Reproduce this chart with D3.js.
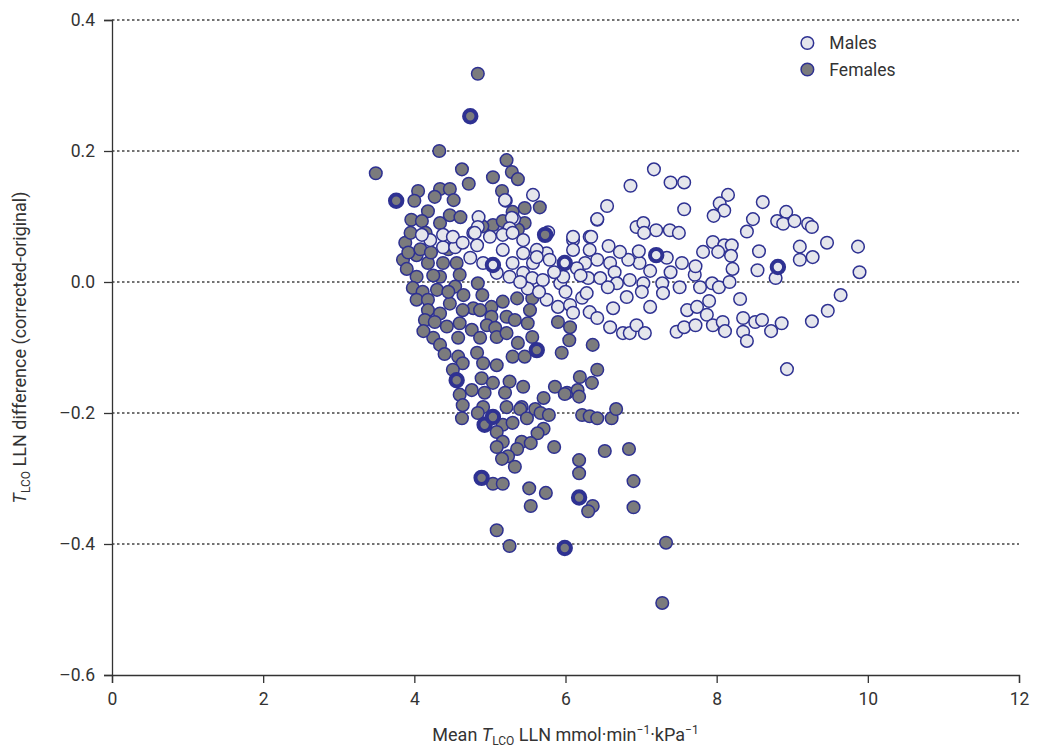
<!DOCTYPE html>
<html>
<head>
<meta charset="utf-8">
<script src="https://cdn.jsdelivr.net/npm/d3@7"></script>
<style>
  body { margin: 0; background: #fff; }
  svg text { font-family: Roboto, "Noto Sans", sans-serif; fill: #333; }
</style>
</head>
<body>
<div id="chart"></div>
<script>
// axis ticks
var xTicks = [0, 2, 4, 6, 8, 10, 12];
var yTicks = [0.4, 0.2, 0.0, -0.2, -0.4, -0.6];
var gridValues = [0.4, 0.2, 0.0, -0.2, -0.4];

// [mean LLN, difference]
var females = [
  [4.84,0.318],[4.33,0.200],[3.49,0.166],[4.63,0.172],[5.22,0.186],[5.29,0.168],[5.37,0.157],[5.04,0.160],
  [4.72,0.150],[4.05,0.139],[4.34,0.142],[4.47,0.142],[4.00,0.124],[4.27,0.130],[4.52,0.125],[5.16,0.139],
  [5.46,0.113],[4.18,0.108],[3.96,0.095],[4.10,0.093],[4.34,0.090],[4.47,0.102],[4.61,0.099],[5.04,0.087],
  [5.46,0.090],[5.17,0.093],[5.66,0.114],[5.30,0.107],[4.90,0.085],[5.37,0.080],
  [3.88,0.060],[3.85,0.034],[4.03,0.041],[3.90,0.020],[4.18,0.029],[4.38,0.029],[4.56,0.029],[4.03,0.008],
  [4.34,0.008],[4.60,0.011],[4.84,-0.002],[3.98,-0.009],[4.11,-0.015],[4.30,-0.012],[4.54,-0.007],[4.03,-0.027],
  [4.18,-0.027],[4.47,-0.033],[4.78,-0.040],[5.02,-0.038],[5.17,-0.030],[5.36,-0.025],[5.56,-0.025],[4.18,-0.043],
  [4.34,-0.048],[4.64,-0.043],[4.87,-0.043],[5.02,-0.053],[5.22,-0.053],[5.53,-0.043],[4.14,-0.058],[4.27,-0.061],
  [4.43,-0.068],[4.60,-0.063],[4.76,-0.073],[4.96,-0.066],[5.07,-0.070],[5.33,-0.058],[5.50,-0.063],[4.25,-0.085],
  [4.34,-0.096],[4.58,-0.085],[4.87,-0.085],[5.09,-0.084],[5.22,-0.078],[5.37,-0.093],[5.56,-0.084],[4.58,-0.114],
  [4.83,-0.108],[4.64,-0.124],[4.91,-0.124],[5.09,-0.127],[5.30,-0.114],[5.46,-0.114],[4.51,-0.134],[4.89,-0.147],
  [5.04,-0.154],[5.26,-0.152],[5.44,-0.160],[4.76,-0.165],[4.60,-0.172],[4.93,-0.169],[5.20,-0.169],[4.64,-0.188],
  [4.91,-0.191],[5.22,-0.191],[5.42,-0.191],
  [3.92,0.045],[4.08,0.050],[4.22,0.045],[4.45,0.050],[3.95,0.075],[4.15,0.075],[4.25,0.010],[4.45,-0.015],
  [4.65,-0.020],[4.90,-0.020],[4.12,-0.075],[4.40,-0.110],
  [5.90,-0.061],[6.06,-0.069],[6.05,-0.089],[5.95,-0.108],[6.36,-0.096],[6.42,-0.134],[6.19,-0.145],[6.35,-0.154],
  [5.86,-0.160],[6.02,-0.169],[6.16,-0.165],
  [4.63,-0.208],[4.84,-0.200],[5.17,-0.218],[5.09,-0.229],[5.30,-0.215],[5.40,-0.194],[5.49,-0.208],[5.60,-0.194],
  [5.67,-0.200],[5.78,-0.203],[5.71,-0.177],[5.99,-0.171],[6.18,-0.175],[5.71,-0.224],[5.63,-0.231],[5.17,-0.244],
  [5.09,-0.252],[5.42,-0.244],[5.54,-0.246],[5.36,-0.255],[5.24,-0.266],[5.16,-0.270],[5.33,-0.282],[5.85,-0.252],
  [6.22,-0.203],[6.32,-0.205],[6.42,-0.208],[6.61,-0.208],[6.67,-0.194],[6.18,-0.272],[6.18,-0.292],[6.52,-0.258],
  [6.84,-0.255],[6.90,-0.304],[6.90,-0.344],[5.04,-0.308],[5.17,-0.308],[5.52,-0.315],[5.74,-0.322],[5.54,-0.342],
  [6.36,-0.342],[6.30,-0.350],[5.09,-0.379],[5.26,-0.403],[7.33,-0.398],[7.28,-0.490]
];

var males = [
  [5.21,0.124],[5.57,0.133],[4.85,0.099],[5.32,0.096],[5.20,0.125],[5.29,0.098],[5.26,0.082],[5.77,0.076],
  [6.42,0.095],[6.32,0.069],[6.10,0.064],[5.75,0.044],[4.21,0.064],[4.10,0.072],[4.38,0.053],[4.54,0.053],
  [4.83,0.056],[4.78,0.075],[5.00,0.069],[5.17,0.072],[5.30,0.075],[5.44,0.064],[5.17,0.049],[5.44,0.044],
  [5.57,0.029],[4.74,0.037],[4.91,0.029],[5.30,0.029],[5.09,0.014],[5.26,0.008],[5.44,0.014],[5.56,0.006],
  [5.62,0.049],[4.84,0.084],[4.80,0.075],[4.38,0.072],[4.51,0.069],[4.64,0.060],
  [5.75,-0.027],[5.90,-0.038],[6.06,-0.035],[6.22,-0.024],[6.32,-0.046],[6.10,-0.047],[5.70,0.003],[5.93,-0.002],
  [5.97,0.008],[5.79,0.034],[5.62,0.038],[6.10,0.049],[6.32,0.049],[6.57,0.055],[6.42,0.034],[6.59,0.029],
  [6.26,0.029],[6.15,0.021],[6.30,0.006],[6.46,0.006],[6.65,0.015],[6.68,-0.002],[6.85,0.003],[6.56,-0.008],
  [7.03,-0.002],[7.28,-0.002],[6.28,-0.017],[6.81,-0.023],[7.01,-0.015],[7.29,-0.017],[6.63,-0.040],[6.42,-0.055],
  [6.59,-0.069],[6.76,-0.078],[6.85,-0.078],[6.94,-0.066],[7.05,-0.078],[7.12,-0.038],[7.47,-0.076],[7.57,-0.069],
  [7.72,-0.066],[7.61,-0.043],[7.74,-0.038],[7.87,-0.050],[7.95,-0.066],[8.08,-0.061],[8.11,-0.075],[8.35,-0.055],
  [8.35,-0.076],[8.40,-0.090],[8.51,-0.061],[8.60,-0.058],[8.72,-0.075],[8.86,-0.063],[9.26,-0.060],[9.47,-0.044],
  [9.64,-0.020],[8.93,-0.133],[8.31,-0.026],[7.90,-0.029],[7.78,-0.008],[7.51,-0.008],[7.94,-0.002],[8.03,-0.008],
  [8.17,0.000],[7.71,0.011],[7.72,0.024],[7.54,0.029],[7.39,0.015],[7.34,0.037],[7.12,0.017],[6.98,0.029],
  [6.97,0.047],[6.83,0.034],[6.72,0.046],
  [7.17,0.172],[6.86,0.147],[7.39,0.152],[7.57,0.152],[8.15,0.133],[8.04,0.120],[8.10,0.109],[7.96,0.101],
  [8.61,0.122],[8.48,0.096],[8.40,0.077],[7.57,0.111],[6.55,0.116],[6.42,0.096],[6.94,0.084],[7.03,0.090],
  [7.20,0.079],[7.38,0.079],[7.50,0.075],[7.04,0.075],[6.34,0.069],[6.10,0.069],[7.95,0.061],[8.10,0.056],
  [8.20,0.056],[7.82,0.046],[8.02,0.046],[8.19,0.040],[8.56,0.047],[8.21,0.020],[8.54,0.018],[8.80,0.093],
  [8.92,0.107],[8.88,0.089],[9.03,0.093],[9.21,0.089],[9.26,0.084],[9.46,0.060],[9.10,0.054],[9.27,0.038],
  [9.10,0.034],[9.87,0.054],[9.89,0.015],[8.78,0.006],
  [5.50,-0.010],[5.65,-0.015],[5.85,0.015],[6.00,-0.015],[6.20,0.010],[5.40,0.000]
];

// the points drawn with a heavy outline
var femalesMarked = [[4.74,0.253],[3.76,0.124],[5.73,0.072],[5.62,-0.104],[4.56,-0.150],[4.93,-0.218],
  [5.04,-0.206],[4.89,-0.299],[6.18,-0.329],[5.99,-0.406]];
var malesMarked = [[5.04,0.026],[5.99,0.029],[7.20,0.041],[8.81,0.023]];

var legendItems = ["Males", "Females"];

var strokeColor = "#2e3192";
var maleFill = "#e5e6ec";
var femaleFill = "#7b7b7d";

var margin = { top: 20, right: 27, bottom: 75, left: 112 };
var width = 1046 - margin.left - margin.right;
var height = 750 - margin.top - margin.bottom;

var svg = d3.select("#chart").append("svg")
  .attr("width", 1046)
  .attr("height", 750)
  .append("g")
  .attr("transform", "translate(" + margin.left + "," + margin.top + ")");

var x = d3.scaleLinear().domain([0, 12]).range([0, width]);
var y = d3.scaleLinear().domain([-0.6, 0.4]).range([height, 0]);

// dotted grid
svg.selectAll(".grid")
  .data(gridValues)
  .enter().append("line")
  .attr("class", "grid")
  .attr("x1", 0)
  .attr("x2", width)
  .attr("y1", function(d) { return y(d); })
  .attr("y2", function(d) { return y(d); })
  .attr("stroke", "#444")
  .attr("stroke-width", 1.3)
  .attr("stroke-dasharray", "2.5,2.5");

var fmt = function(d) { return d3.format(".1f")(d).replace("\u2212", "\u2013").replace("-", "\u2013"); };

var xAxis = svg.append("g")
  .attr("transform", "translate(0," + height + ")")
  .call(d3.axisBottom(x).tickValues(xTicks).tickSize(8).tickPadding(10));
var yAxis = svg.append("g")
  .call(d3.axisLeft(y).tickValues(yTicks).tickSize(8).tickPadding(9).tickFormat(fmt));

[xAxis, yAxis].forEach(function(g) {
  g.select(".domain").attr("stroke", "#333").attr("stroke-width", 1.3);
  g.selectAll(".tick line").attr("stroke", "#333").attr("stroke-width", 1.3);
  g.selectAll(".tick text")
    .style("font-family", "Roboto, sans-serif")
    .style("font-size", "17.5px")
    .attr("fill", "#333");
});

// points
function drawDots(data, fill, sw, r) {
  svg.append("g").selectAll("circle")
    .data(data)
    .enter().append("circle")
    .attr("cx", function(d) { return x(d[0]); })
    .attr("cy", function(d) { return y(d[1]); })
    .attr("r", r)
    .attr("fill", fill)
    .attr("stroke", strokeColor)
    .attr("stroke-width", sw);
}
drawDots(females, femaleFill, 1.5, 6.3);
drawDots(males, maleFill, 1.5, 6.3);
drawDots(femalesMarked, femaleFill, 4, 6.2);
drawDots(malesMarked, maleFill, 4, 6.2);

// legend
var legend = svg.append("g").attr("transform", "translate(" + x(9.2) + ",0)");
legendItems.forEach(function(name, i) {
  var row = legend.append("g").attr("transform", "translate(0," + (23 + i * 26.5) + ")");
  row.append("circle")
    .attr("r", 6.3)
    .attr("fill", i === 0 ? maleFill : femaleFill)
    .attr("stroke", strokeColor)
    .attr("stroke-width", 1.5);
  row.append("text")
    .attr("x", 22)
    .attr("dy", "0.36em")
    .style("font-size", "17.5px")
    .text(name);
});

// axis titles
var xTitle = svg.append("text")
  .attr("x", width / 2)
  .attr("y", height + 66)
  .attr("text-anchor", "middle")
  .style("font-size", "18px");
xTitle.append("tspan").text("Mean ");
xTitle.append("tspan").style("font-style", "italic").text("T");
xTitle.append("tspan").attr("dy", 4).style("font-size", "12px").text("LCO");
xTitle.append("tspan").attr("dy", -4).text(" LLN mmol\u00b7min");
xTitle.append("tspan").attr("dy", -7).style("font-size", "12px").text("\u22121");
xTitle.append("tspan").attr("dy", 7).text("\u00b7kPa");
xTitle.append("tspan").attr("dy", -7).style("font-size", "12px").text("\u22121");

var yTitle = svg.append("text")
  .attr("transform", "translate(" + (-86) + "," + (height / 2) + ") rotate(-90)")
  .attr("text-anchor", "middle")
  .style("font-size", "18px");
yTitle.append("tspan").style("font-style", "italic").text("T");
yTitle.append("tspan").attr("dy", 4).style("font-size", "12px").text("LCO");
yTitle.append("tspan").attr("dy", -4).text(" LLN difference (corrected-original)");
</script>
</body>
</html>
